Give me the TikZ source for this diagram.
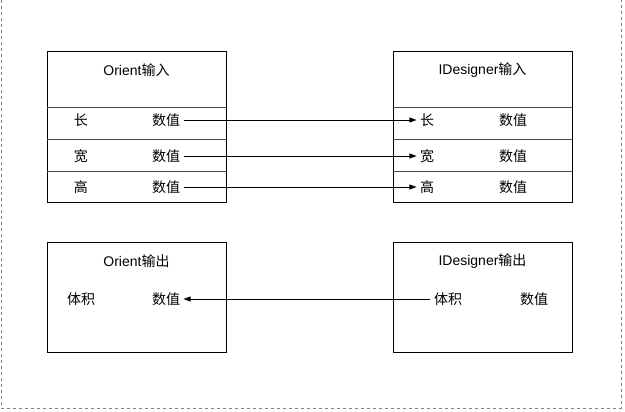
\documentclass[tikz,border=0pt]{standalone}
\usepackage{fontspec}
\setmainfont{Liberation Sans}
\newfontfamily\cjk{Noto Sans CJK SC}
\usetikzlibrary{positioning,arrows.meta}

\begin{document}
\begin{tikzpicture}[x=1pt, y=-1pt, font=\fontsize{14}{16}\selectfont,
  box/.style={draw, line width=0.8pt, minimum width=179, anchor=north west, inner sep=0pt},
  divider/.style={draw=black!70, line width=0.9pt},
  link/.style={-{Triangle[length=7pt, width=5pt]}, line width=0.7pt}]
\useasboundingbox (0,0) rectangle (625,412);
\draw[dashed, black!50, line width=0.9pt] (1,0) -- (1,408) -- (621,408) -- (621,0);

% input boxes
\node[box, minimum height=151] (oin) at (47,51) {};
\node[box, minimum height=151] (din) at (393,51) {};
\node (oin title) at (136.5,70) {Orient{\cjk 输入}};
\node (din title) at (482.5,70) {IDesigner{\cjk 输入}};
\foreach \y in {107,139,171} {
  \draw[divider] (47,\y) -- (226,\y);
  \draw[divider] (393,\y) -- (572,\y);
}
\node (oin l)  at (81,120)  {\cjk 长};
\node (oin lv) at (166,120) {\cjk 数值};
\node (oin w)  at (81,156)  {\cjk 宽};
\node (oin wv) at (166,156) {\cjk 数值};
\node (oin h)  at (81,187)  {\cjk 高};
\node (oin hv) at (166,187) {\cjk 数值};
\node (din l)  at (427,120) {\cjk 长};
\node (din lv) at (513,120) {\cjk 数值};
\node (din w)  at (427,156) {\cjk 宽};
\node (din wv) at (513,156) {\cjk 数值};
\node (din h)  at (427,187) {\cjk 高};
\node (din hv) at (513,187) {\cjk 数值};

% output boxes
\node[box, minimum height=110] (oout) at (47,242) {};
\node[box, minimum height=110] (dout) at (393,242) {};
\node (oout title) at (136.5,261) {Orient{\cjk 输出}};
\node (dout title) at (482.5,261) {IDesigner{\cjk 输出}};
\node (oout v)  at (81,299)  {\cjk 体积};
\node (oout vv) at (166,299) {\cjk 数值};
\node (dout v)  at (448,299) {\cjk 体积};
\node (dout vv) at (534,299) {\cjk 数值};

\draw[link] (oin lv) -- (din l);
\draw[link] (oin wv) -- (din w);
\draw[link] (oin hv) -- (din h);
\draw[link] (dout v) -- (oout vv);
\end{tikzpicture}
\end{document}
